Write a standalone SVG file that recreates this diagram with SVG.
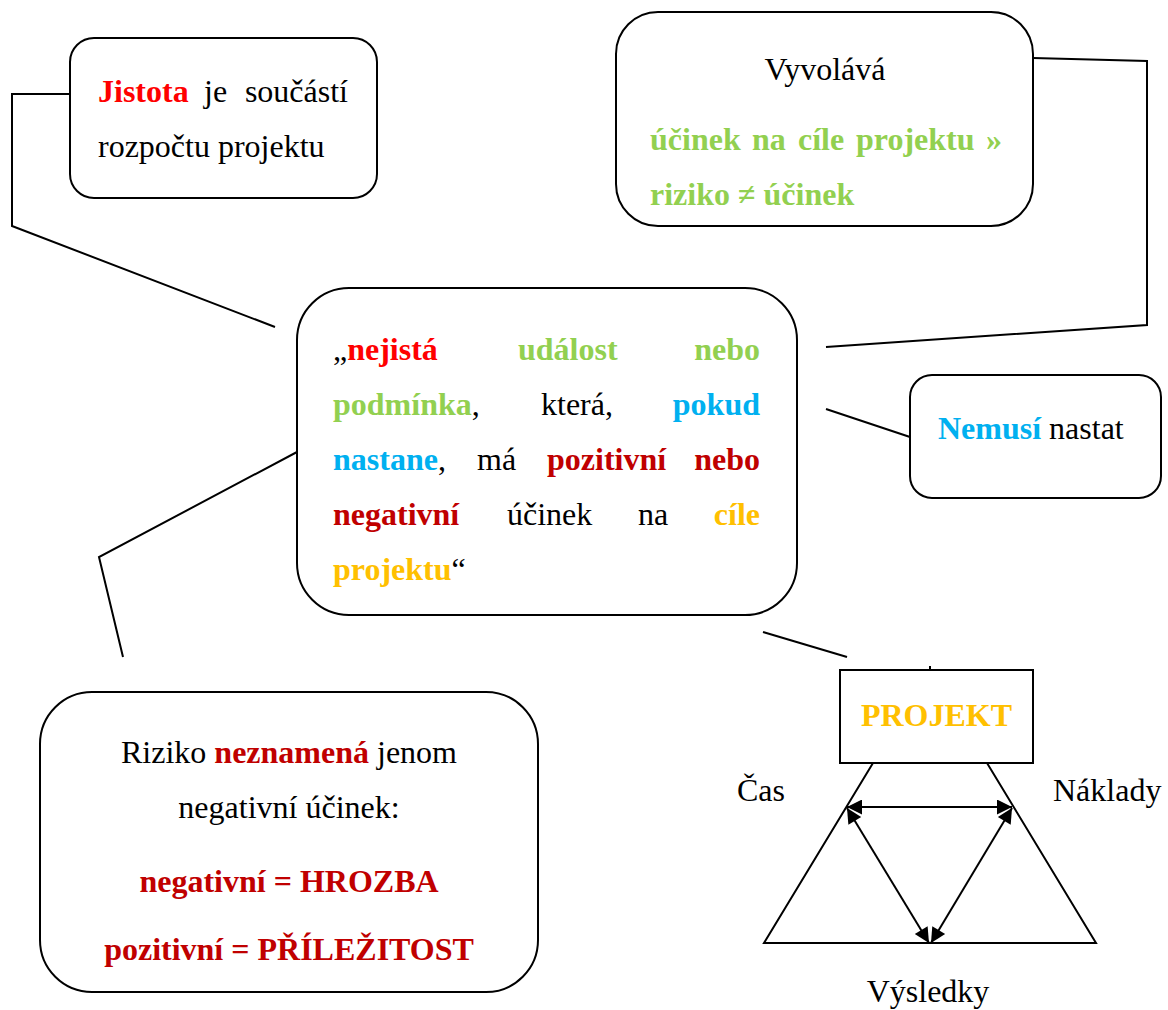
<svg xmlns="http://www.w3.org/2000/svg" width="1168" height="1010" viewBox="0 0 1168 1010">
<defs>
<style>
text{font-family:"Liberation Serif","Times New Roman",serif;font-size:32px;fill:#000}
.b{font-weight:bold}
.red{fill:#FF0000}
.dred{fill:#C00000}
.grn{fill:#92D050}
.blu{fill:#00B0F0}
.gld{fill:#FFC000}
.box{fill:#fff;stroke:#000;stroke-width:2}
.ln{fill:none;stroke:#000;stroke-width:2}
</style>
<marker id="ah" viewBox="0 0 10 10" refX="10" refY="5" markerWidth="9" markerHeight="7.5" markerUnits="strokeWidth" orient="auto-start-reverse">
<path d="M0,0 L10,5 L0,10 z" fill="#000"/>
</marker>
</defs>
<rect width="1168" height="1010" fill="#fff"/>

<g id="connectors">
<polyline class="ln" points="70,94 12,94 12,226 275,327"/>
<polyline class="ln" points="1033,58 1147,61 1147,325 826,347"/>
<line class="ln" x1="826" y1="409" x2="910" y2="437"/>
<polyline class="ln" points="297,452 99,557 123,657"/>
<line class="ln" x1="763" y1="632" x2="847" y2="657"/>
<line class="ln" x1="930" y1="666" x2="930" y2="670"/>
</g>

<g id="jistota">
<rect class="box" x="70" y="38" width="307" height="160" rx="24"/>
<text x="98" y="102"><tspan class="b red">Jistota</tspan></text>
<text x="204" y="102">je</text>
<text x="348" y="102" text-anchor="end">součástí</text>
<text x="98" y="157">rozpočtu projektu</text>
</g>

<g id="vyvolava">
<rect class="box" x="616" y="12" width="417" height="214" rx="42"/>
<text x="825" y="80" text-anchor="middle">Vyvolává</text>
<text class="b grn" x="650" y="150">účinek</text>
<text class="b grn" x="752" y="150">na</text>
<text class="b grn" x="798" y="150">cíle</text>
<text class="b grn" x="856" y="150">projektu</text>
<text class="b grn" x="1002" y="150" text-anchor="end">»</text>
<text class="b grn" x="650" y="205">riziko ≠ účinek</text>
</g>

<g id="definice">
<rect class="box" x="297" y="288" width="500" height="327" rx="52"/>
<text x="333" y="360">„<tspan class="b red">nejistá</tspan></text>
<text class="b grn" x="518" y="360">událost</text>
<text class="b grn" x="760" y="360" text-anchor="end">nebo</text>
<text x="333" y="415"><tspan class="b grn">podmínka</tspan>,</text>
<text x="541" y="415">která,</text>
<text class="b blu" x="760" y="415" text-anchor="end">pokud</text>
<text x="333" y="470"><tspan class="b blu">nastane</tspan>,</text>
<text x="477" y="470">má</text>
<text class="b dred" x="547" y="470">pozitivní</text>
<text class="b dred" x="760" y="470" text-anchor="end">nebo</text>
<text class="b dred" x="333" y="525">negativní</text>
<text x="507" y="525">účinek</text>
<text x="638" y="525">na</text>
<text class="b gld" x="760" y="525" text-anchor="end">cíle</text>
<text x="333" y="580"><tspan class="b gld">projektu</tspan>“</text>
</g>

<g id="nemusi">
<rect class="box" x="910" y="375" width="251" height="123" rx="22"/>
<text x="938" y="439"><tspan class="b blu">Nemusí</tspan> nastat</text>
</g>

<g id="riziko">
<rect class="box" x="40" y="692" width="498" height="300" rx="52"/>
<text x="289" y="763" text-anchor="middle">Riziko <tspan class="b dred">neznamená</tspan> jenom</text>
<text x="289" y="818" text-anchor="middle">negativní účinek:</text>
<text class="b dred" x="289" y="892" text-anchor="middle">negativní = HROZBA</text>
<text class="b dred" x="289" y="960" text-anchor="middle">pozitivní = PŘÍLEŽITOST</text>
</g>

<g id="projekt">
<rect class="box" x="840" y="670" width="193" height="93"/>
<text class="b gld" x="936.5" y="726" text-anchor="middle">PROJEKT</text>
</g>

<g id="trojuhelnik">
<polyline class="ln" points="873,763 764,943 1096,943 987,763"/>
<line class="ln" x1="847" y1="807" x2="1012" y2="807" marker-start="url(#ah)" marker-end="url(#ah)"/>
<line class="ln" x1="847" y1="808" x2="929" y2="943" marker-start="url(#ah)" marker-end="url(#ah)"/>
<line class="ln" x1="1012" y1="808" x2="931" y2="943" marker-start="url(#ah)" marker-end="url(#ah)"/>
<text x="737" y="801">Čas</text>
<text x="1053" y="801">Náklady</text>
<text x="928" y="1002" text-anchor="middle">Výsledky</text>
</g>
</svg>
